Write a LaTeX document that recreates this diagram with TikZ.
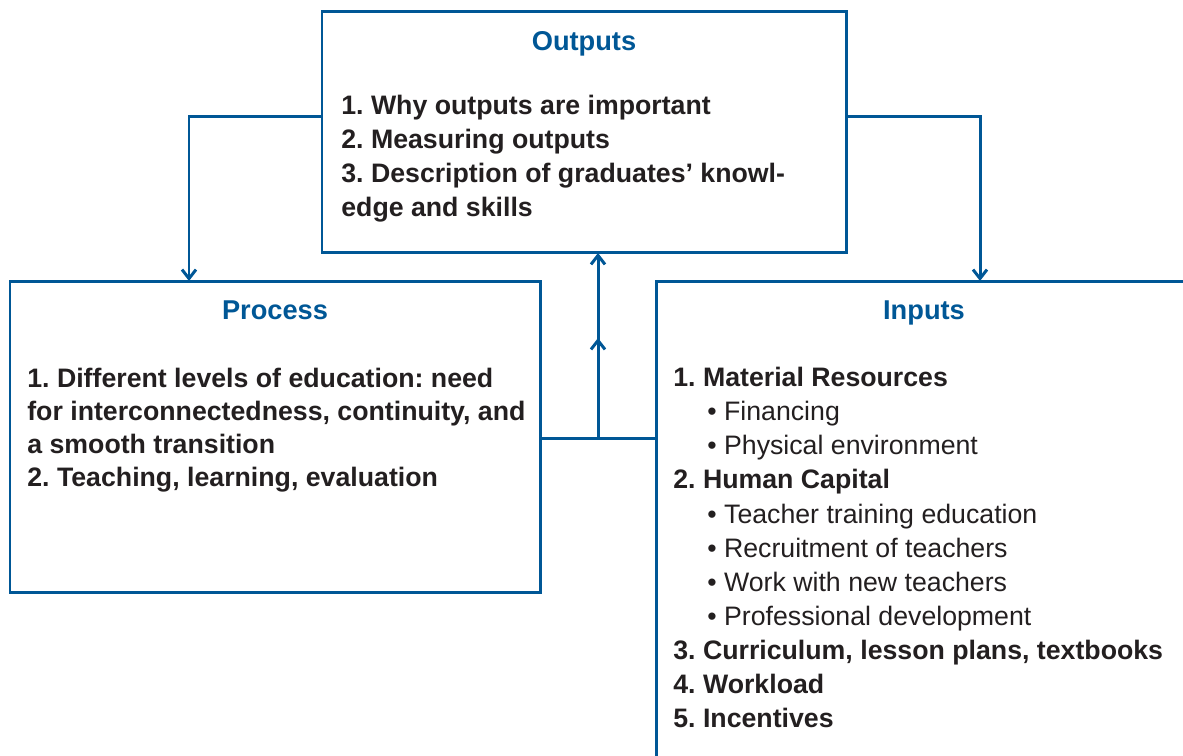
\documentclass[tikz,border=0pt]{standalone}
\usepackage{fontspec}
\setmainfont{Liberation Sans}
\usetikzlibrary{positioning}
\usetikzlibrary{arrows.meta}
\definecolor{boxblue}{RGB}{0,87,150}
\definecolor{inkdark}{RGB}{35,31,32}
\tikzset{
    boxb/.style = {rectangle, draw=boxblue, line width=1.7pt, anchor=north west, inner sep=0pt, outer sep=0pt},
    titleb/.style = {anchor=base, inner sep=0pt, text=boxblue, font=\fontsize{15.5}{19.4}\selectfont\bfseries},
    listn/.style = {anchor=north west, align=left, inner sep=0pt, text=inkdark, font=\fontsize{15.2}{19.4}\selectfont\bfseries},
    edgeb/.style = {-{Straight Barb[width=2.8mm,length=1.8mm,line width=1.7pt]}, draw=boxblue, line width=1.7pt},
    lineb/.style = {draw=boxblue, line width=1.7pt}
}
\newcommand{\subitm}[1]{\hspace*{0.68cm}{\mdseries • #1}}
\frenchspacing

\begin{document}
\begin{tikzpicture}[x=0.02cm, y=-0.02cm]
  \useasboundingbox (0,0) rectangle (1183,755);
  \clip (0,0) rectangle (1183,755);

  % boxes
  \node[boxb, minimum width=10.5cm, minimum height=4.84cm] (outputs) at (322,11) {};
  \node[boxb, minimum width=10.62cm, minimum height=6.24cm] (process) at (10,281) {};
  \node[boxb, minimum width=12cm, minimum height=12cm] (inputs) at (656,281) {};

  % titles
  \node[titleb] (outtitle) at (584,50) {Outputs};
  \node[titleb] (proctitle) at (275,319) {Process};
  \node[titleb] (intitle) at (924,319) {Inputs};

  % lists
  \node[listn] (outlist) at (341,95) {1. Why outputs are important\\
    2. Measuring outputs\\
    3. Description of graduates’ knowl-\\
    edge and skills};
  \node[listn, font=\fontsize{15.2}{18.7}\selectfont\bfseries] (proclist) at (27,368) {1. Different levels of education: need\\
    for interconnectedness, continuity, and\\
    a smooth transition\\
    2. Teaching, learning, evaluation};
  \node[listn] (inlist) at (673,367) {1. Material Resources\\
    \subitm{Financing}\\
    \subitm{Physical environment}\\
    2. Human Capital\\
    \subitm{Teacher training education}\\
    \subitm{Recruitment of teachers}\\
    \subitm{Work with new teachers}\\
    \subitm{Professional development}\\
    3. Curriculum, lesson plans, textbooks\\
    4. Workload\\
    5. Incentives};

  % connectors
  \coordinate (lknee) at (189,116);
  \coordinate (rknee) at (980,116);
  \coordinate (mid) at (598,438);
  \coordinate (midtip) at (598,338);
  \draw[edgeb] (outputs.west |- lknee) -- (lknee) -- (lknee |- process.north);
  \draw[edgeb] (outputs.east |- rknee) -- (rknee) -- (rknee |- inputs.north);
  \draw[lineb] (process.east |- mid) -- (inputs.west |- mid);
  \draw[edgeb] (mid) -- (midtip);
  \draw[edgeb] (mid) -- (mid |- outputs.south);
\end{tikzpicture}
\end{document}
